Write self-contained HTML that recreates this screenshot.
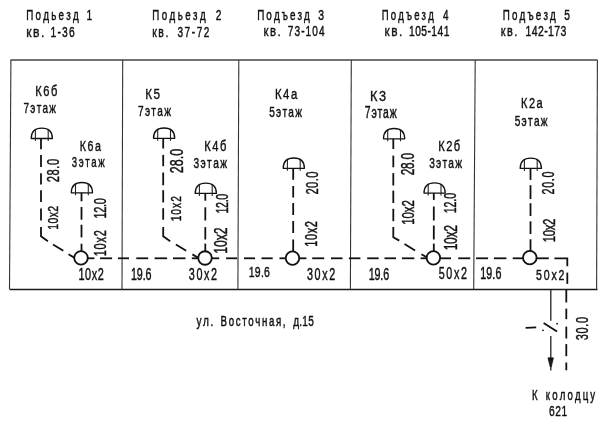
<!DOCTYPE html>
<html><head><meta charset="utf-8"><title>Схема канализации</title>
<style>
html,body{margin:0;padding:0;background:#fff;}
svg{display:block;}
text{font-family:'Liberation Sans', 'DejaVu Sans', sans-serif;font-size:100px;font-weight:normal;fill:#111;stroke:#111;font-kerning:none;}
.p{stroke:#111;stroke-width:1.8;fill:none;stroke-linecap:butt;}
.fr{stroke:#1a1a1a;stroke-width:1.3;fill:none;}
.ft{stroke:#444;stroke-width:1.4;fill:none;}
.fl{stroke:#333;stroke-width:1.1;fill:none;}
.fx{stroke:#111;stroke-width:1.3;fill:none;stroke-linejoin:round;}
.fx2{stroke:#222;stroke-width:1.1;}
.thin{stroke:#222;stroke-width:1.3;}
.arr{fill:#111;stroke:#111;stroke-width:0.6;}
.dot{fill:#111;}
</style></head>
<body>
<svg width="604" height="424" viewBox="0 0 604 424">
<rect width="604" height="424" fill="#fff"/>
<g>
<line class="ft" x1="10.5" y1="60" x2="597.5" y2="60"/>
<line class="fr" x1="9.5" y1="289.5" x2="597.5" y2="289.5"/>
<line class="fl" x1="10.9" y1="60" x2="9.5" y2="289"/>
<line class="fl" x1="597.4" y1="60" x2="596.6" y2="289.5"/>
<line class="fl" x1="122.7" y1="60" x2="122" y2="289.5"/>
<line class="fl" x1="238.8" y1="60" x2="237.9" y2="289.5"/>
<line class="fl" x1="351.3" y1="60" x2="350.4" y2="289.5"/>
<line class="fl" x1="475.2" y1="60" x2="473.7" y2="289.5"/>
</g>
<g>
<line class="p" x1="87.8" y1="258.3" x2="94.4" y2="258.3"/>
<line class="p" x1="100.1" y1="258.3" x2="112.1" y2="258.3"/>
<line class="p" x1="118" y1="258.3" x2="129" y2="258.3"/>
<line class="p" x1="136.3" y1="258.3" x2="148.2" y2="258.3"/>
<line class="p" x1="154.6" y1="258.3" x2="167.1" y2="258.3"/>
<line class="p" x1="173" y1="258.3" x2="185.5" y2="258.3"/>
<line class="p" x1="191.8" y1="258.3" x2="197.8" y2="258.3"/>
<line class="p" x1="212" y1="258.3" x2="219.2" y2="258.3"/>
<line class="p" x1="226.1" y1="258.3" x2="237.1" y2="258.3"/>
<line class="p" x1="244" y1="258.3" x2="255" y2="258.3"/>
<line class="p" x1="261.5" y1="258.3" x2="272.7" y2="258.3"/>
<line class="p" x1="279.5" y1="258.3" x2="285.8" y2="258.3"/>
<line class="p" x1="299.7" y1="258.3" x2="306.4" y2="258.3"/>
<line class="p" x1="312.2" y1="258.3" x2="324.2" y2="258.3"/>
<line class="p" x1="331" y1="258.3" x2="342.5" y2="258.3"/>
<line class="p" x1="348.9" y1="258.3" x2="360.4" y2="258.3"/>
<line class="p" x1="367.2" y1="258.3" x2="378.7" y2="258.3"/>
<line class="p" x1="384.5" y1="258.3" x2="396" y2="258.3"/>
<line class="p" x1="401.9" y1="258.3" x2="414.3" y2="258.3"/>
<line class="p" x1="420.6" y1="258.3" x2="426.7" y2="258.3"/>
<line class="p" x1="440.3" y1="258.3" x2="451" y2="258.3"/>
<line class="p" x1="458.2" y1="258.3" x2="470.2" y2="258.3"/>
<line class="p" x1="476.1" y1="258.3" x2="488.1" y2="258.3"/>
<line class="p" x1="493.9" y1="258.3" x2="506.4" y2="258.3"/>
<line class="p" x1="512.7" y1="258.3" x2="523" y2="258.3"/>
<line class="p" x1="536.3" y1="258.3" x2="548.8" y2="258.3"/>
<polyline class="p" points="554.4,258.3 567.3,258.3 567.3,266.2"/>
<line class="p" x1="567.3" y1="272.6" x2="567.3" y2="283.9"/>
<line class="p" x1="566.3" y1="289.5" x2="566.3" y2="302.5"/>
<line class="p" x1="566.3" y1="308.6" x2="566.3" y2="319.2"/>
<line class="p" x1="566.3" y1="326.6" x2="566.3" y2="338.5"/>
<line class="p" x1="566.3" y1="344.1" x2="566.3" y2="356.2"/>
<line class="p" x1="566.3" y1="362.5" x2="566.3" y2="370.3"/>
<circle class="p" cx="81" cy="257.9" r="6.75"/>
<circle class="p" cx="205" cy="258" r="6.75"/>
<circle class="p" cx="292.5" cy="258.2" r="6.75"/>
<circle class="p" cx="433.4" cy="257.8" r="6.75"/>
<circle class="p" cx="529.8" cy="257.7" r="6.75"/>
<line class="p" x1="41" y1="138.5" x2="41" y2="149.2"/>
<line class="p" x1="41" y1="154.9" x2="41" y2="166.9"/>
<line class="p" x1="41" y1="173.2" x2="41" y2="184.6"/>
<line class="p" x1="41" y1="190.2" x2="41" y2="202"/>
<line class="p" x1="41" y1="208.4" x2="41" y2="220.4"/>
<polyline class="p" points="41,227 41,236.2 47.9,241.2"/>
<line class="p" x1="53" y1="244.4" x2="63.3" y2="250.7"/>
<line class="p" x1="68.5" y1="254.3" x2="74.6" y2="257.9"/>
<line class="p" x1="81.5" y1="192.8" x2="81.5" y2="201.3"/>
<line class="p" x1="81.5" y1="207" x2="81.5" y2="219.7"/>
<line class="p" x1="81.5" y1="224.7" x2="81.5" y2="237.4"/>
<line class="p" x1="81.5" y1="243.7" x2="81.5" y2="251.5"/>
<line class="p" x1="163.2" y1="138.3" x2="163.2" y2="148.5"/>
<line class="p" x1="163.2" y1="154.9" x2="163.2" y2="166.2"/>
<line class="p" x1="163.2" y1="172.5" x2="163.2" y2="185.3"/>
<line class="p" x1="163.2" y1="190.2" x2="163.2" y2="202.4"/>
<line class="p" x1="163.2" y1="208.2" x2="163.2" y2="219.7"/>
<polyline class="p" points="163.2,227 163.2,236.2 170.2,241.2"/>
<line class="p" x1="175.9" y1="244.5" x2="186.2" y2="250.8"/>
<line class="p" x1="192.4" y1="254.4" x2="198.4" y2="257.9"/>
<line class="p" x1="205.3" y1="193.5" x2="205.3" y2="200.7"/>
<line class="p" x1="205.3" y1="207.3" x2="205.3" y2="220.5"/>
<line class="p" x1="205.3" y1="227.1" x2="205.3" y2="239.5"/>
<line class="p" x1="205.3" y1="243.6" x2="205.3" y2="251.6"/>
<line class="p" x1="293.2" y1="168.3" x2="293.2" y2="179.8"/>
<line class="p" x1="293.2" y1="186" x2="293.2" y2="197.5"/>
<line class="p" x1="293.2" y1="203" x2="293.2" y2="215"/>
<line class="p" x1="293.2" y1="221" x2="293.2" y2="233"/>
<line class="p" x1="293.2" y1="239.5" x2="293.2" y2="251.8"/>
<line class="p" x1="393.3" y1="138.8" x2="393.3" y2="149"/>
<line class="p" x1="393.3" y1="155.6" x2="393.3" y2="167.3"/>
<line class="p" x1="393.3" y1="173.1" x2="393.3" y2="185.5"/>
<line class="p" x1="393.3" y1="190.6" x2="393.3" y2="203"/>
<line class="p" x1="393.3" y1="208.8" x2="393.3" y2="221.2"/>
<polyline class="p" points="393.3,227 393.3,237.2 399.3,240.6"/>
<line class="p" x1="404.5" y1="244" x2="415.1" y2="250.4"/>
<line class="p" x1="421.5" y1="254.2" x2="427" y2="257.6"/>
<line class="p" x1="433.8" y1="193.1" x2="433.8" y2="199.9"/>
<line class="p" x1="433.8" y1="206.5" x2="433.8" y2="220.5"/>
<line class="p" x1="433.8" y1="225.5" x2="433.8" y2="239.5"/>
<line class="p" x1="433.8" y1="243.6" x2="433.8" y2="251.4"/>
<line class="p" x1="530.5" y1="168.4" x2="530.5" y2="179.9"/>
<line class="p" x1="530.5" y1="185.2" x2="530.5" y2="199"/>
<line class="p" x1="530.5" y1="203.2" x2="530.5" y2="216"/>
<line class="p" x1="530.5" y1="221.3" x2="530.5" y2="234"/>
<line class="p" x1="530.5" y1="239.3" x2="530.5" y2="251.3"/>
</g>
<g>
<path class="fx" d="M31.2,138.5 C31.2,131.908 35.016,128.2 41.8,128.2 C48.584,128.2 52.4,131.908 52.4,138.5 Z"/>
<line class="fx2" x1="35.4" y1="129.7611" x2="35.4" y2="141"/>
<line class="fx2" x1="48.2" y1="129.7611" x2="48.2" y2="141"/>
<path class="fx" d="M71.3,192.8 C71.3,186.208 75.116,182.5 81.9,182.5 C88.684,182.5 92.5,186.208 92.5,192.8 Z"/>
<line class="fx2" x1="75.5" y1="184.0611" x2="75.5" y2="195.3"/>
<line class="fx2" x1="88.3" y1="184.0611" x2="88.3" y2="195.3"/>
<path class="fx" d="M153.5,138.3 C153.5,131.708 157.316,128 164.1,128 C170.884,128 174.7,131.708 174.7,138.3 Z"/>
<line class="fx2" x1="157.7" y1="129.5611" x2="157.7" y2="140.8"/>
<line class="fx2" x1="170.5" y1="129.5611" x2="170.5" y2="140.8"/>
<path class="fx" d="M195.2,193.4 C195.2,186.808 199.016,183.1 205.8,183.1 C212.584,183.1 216.4,186.808 216.4,193.4 Z"/>
<line class="fx2" x1="199.4" y1="184.6611" x2="199.4" y2="195.9"/>
<line class="fx2" x1="212.2" y1="184.6611" x2="212.2" y2="195.9"/>
<path class="fx" d="M283.2,168.3 C283.2,161.708 287.016,158 293.8,158 C300.584,158 304.4,161.708 304.4,168.3 Z"/>
<line class="fx2" x1="287.4" y1="159.5611" x2="287.4" y2="170.8"/>
<line class="fx2" x1="300.2" y1="159.5611" x2="300.2" y2="170.8"/>
<path class="fx" d="M383.5,138.8 C383.5,132.208 387.316,128.5 394.1,128.5 C400.884,128.5 404.7,132.208 404.7,138.8 Z"/>
<line class="fx2" x1="387.7" y1="130.0611" x2="387.7" y2="141.3"/>
<line class="fx2" x1="400.5" y1="130.0611" x2="400.5" y2="141.3"/>
<path class="fx" d="M424,193.1 C424,186.508 427.816,182.8 434.6,182.8 C441.384,182.8 445.2,186.508 445.2,193.1 Z"/>
<line class="fx2" x1="428.2" y1="184.3611" x2="428.2" y2="195.6"/>
<line class="fx2" x1="441" y1="184.3611" x2="441" y2="195.6"/>
<path class="fx" d="M520.2,168.4 C520.2,161.808 524.016,158.1 530.8,158.1 C537.584,158.1 541.4,161.808 541.4,168.4 Z"/>
<line class="fx2" x1="524.4" y1="159.6611" x2="524.4" y2="170.9"/>
<line class="fx2" x1="537.2" y1="159.6611" x2="537.2" y2="170.9"/>
</g>
<g>
<line class="thin" x1="550.8" y1="289.5" x2="550.8" y2="320.7"/>
<line class="thin" x1="550.8" y1="335.9" x2="550.8" y2="360"/>
<path class="arr" d="M547.9,357.8 L553.5,357.8 L551.3,367 L550.2,367 Z"/>
<line class="thin" x1="550.8" y1="360" x2="550.8" y2="370.5"/>
<line class="p" x1="543.6" y1="323" x2="557" y2="331.6"/>
<circle class="dot" cx="543" cy="330.3" r="0.9"/>
<circle class="dot" cx="557.1" cy="323.7" r="0.9"/>
<path class="p" d="M525.6,327.8 L536.2,327.4"/>
</g>
<g>
<text letter-spacing="22.86" stroke-width="3.0533" transform="matrix(0.0983 0 0 0.1512 26.214 19.9)">Подьезд</text>
<text letter-spacing="0" stroke-width="2.9186" transform="matrix(0.1028 0 0 0.1512 86.5177 19.9)">1</text>
<text letter-spacing="12.2932" stroke-width="2.4586" transform="matrix(0.122 0 0 0.1512 26.1459 36.8)">кв.</text>
<text letter-spacing="11.9186" stroke-width="2.9186" transform="matrix(0.1028 0 0 0.1512 50.4777 36.8)">1-36</text>
<text letter-spacing="25.4225" stroke-width="3.0829" transform="matrix(0.0973 0 0 0.1497 152.2215 20.3)">Подьезд</text>
<text letter-spacing="0" stroke-width="2.9469" transform="matrix(0.1018 0 0 0.1497 215.8495 20.3)">2</text>
<text letter-spacing="14.3421" stroke-width="2.8684" transform="matrix(0.1046 0 0 0.1483 152.2679 36.6)">кв.</text>
<text letter-spacing="15.6202" stroke-width="2.9758" transform="matrix(0.1008 0 0 0.1483 177.3967 36.6)">37-72</text>
<text letter-spacing="20.3597" stroke-width="3.0242" transform="matrix(0.0992 0 0 0.1526 257.2064 20)">Подъезд</text>
<text letter-spacing="0" stroke-width="2.8908" transform="matrix(0.1038 0 0 0.1526 318.3461 20)">3</text>
<text letter-spacing="13.1855" stroke-width="2.6371" transform="matrix(0.1138 0 0 0.1483 263.6037 35.6)">кв.</text>
<text letter-spacing="10.8187" stroke-width="2.9758" transform="matrix(0.1008 0 0 0.1483 287.7959 35.6)">73-104</text>
<text letter-spacing="22.9198" stroke-width="3.1439" transform="matrix(0.0954 0 0 0.1468 381.7366 19.9)">Подъезд</text>
<text letter-spacing="0" stroke-width="3.0052" transform="matrix(0.0998 0 0 0.1468 443.0548 19.9)">4</text>
<text letter-spacing="12.6744" stroke-width="2.5349" transform="matrix(0.1183 0 0 0.1512 384.5716 36.2)">кв.</text>
<text letter-spacing="4.3974" stroke-width="2.9186" transform="matrix(0.1028 0 0 0.1512 408.9777 36.2)">105-141</text>
<text letter-spacing="22.0414" stroke-width="3.0533" transform="matrix(0.0983 0 0 0.1512 502.714 19.9)">Подъезд</text>
<text letter-spacing="0" stroke-width="2.9186" transform="matrix(0.1028 0 0 0.1512 564.1733 19.9)">5</text>
<text letter-spacing="13.7395" stroke-width="2.7479" transform="matrix(0.1092 0 0 0.1541 500.7358 36.4)">кв.</text>
<text letter-spacing="3.9891" stroke-width="2.8635" transform="matrix(0.1048 0 0 0.1541 525.4619 36.4)">142-173</text>
<text letter-spacing="13.4746" stroke-width="2.6949" transform="matrix(0.1113 0 0 0.1381 35.3094 95.9)">К6б</text>
<text letter-spacing="13.1733" stroke-width="3.0253" transform="matrix(0.0992 0 0 0.1512 23.5042 113.2)">7этаж</text>
<text letter-spacing="14.0407" stroke-width="2.8081" transform="matrix(0.1068 0 0 0.1381 79.8453 150.9)">К6а</text>
<text letter-spacing="16.6101" stroke-width="3.1152" transform="matrix(0.0963 0 0 0.1468 71.8148 167.4)">3этаж</text>
<text letter-spacing="12.8571" stroke-width="2.5714" transform="matrix(0.1167 0 0 0.1439 145.2667 98.5)">К5</text>
<text letter-spacing="12.8927" stroke-width="2.9682" transform="matrix(0.1011 0 0 0.1541 137.9947 115.6)">7этаж</text>
<text letter-spacing="13.4746" stroke-width="2.6949" transform="matrix(0.1113 0 0 0.1468 204.3094 150.9)">К4б</text>
<text letter-spacing="13.1189" stroke-width="2.9405" transform="matrix(0.102 0 0 0.1555 193.5919 168)">3этаж</text>
<text letter-spacing="13.1967" stroke-width="2.6393" transform="matrix(0.1137 0 0 0.1468 274.9907 99.1)">К4а</text>
<text letter-spacing="12.3953" stroke-width="2.9682" transform="matrix(0.1011 0 0 0.1541 269.1957 116.6)">5этаж</text>
<text letter-spacing="11.7442" stroke-width="2.3488" transform="matrix(0.1277 0 0 0.1541 370.0782 100.7)">К3</text>
<text letter-spacing="8.0409" stroke-width="2.8866" transform="matrix(0.1039 0 0 0.1584 364.7803 118)">7этаж</text>
<text letter-spacing="13.4746" stroke-width="2.6949" transform="matrix(0.1113 0 0 0.1468 438.2094 150.9)">К2б</text>
<text letter-spacing="11.6486" stroke-width="2.9405" transform="matrix(0.102 0 0 0.1555 429.1919 168)">3этаж</text>
<text letter-spacing="13.6441" stroke-width="2.7288" transform="matrix(0.1099 0 0 0.1395 521.1205 108.4)">К2а</text>
<text letter-spacing="12.6427" stroke-width="2.9682" transform="matrix(0.1011 0 0 0.1541 514.6957 126.4)">5этаж</text>
<text letter-spacing="4.9697" stroke-width="2.7594" transform="matrix(0.1087 0 0 0.1599 78.5302 280.4)">10x2</text>
<text letter-spacing="-1.2603" stroke-width="2.7847" transform="matrix(0.1077 0 0 0.1584 130.9381 280.2)">19.6</text>
<text letter-spacing="15.1351" stroke-width="2.7847" transform="matrix(0.1077 0 0 0.1584 188.7691 280.2)">30x2</text>
<text letter-spacing="2.33" stroke-width="2.8635" transform="matrix(0.1048 0 0 0.1541 248.7619 277.2)">19.6</text>
<text letter-spacing="15.1351" stroke-width="2.7847" transform="matrix(0.1077 0 0 0.1584 306.9691 280.2)">30x2</text>
<text letter-spacing="-1.5697" stroke-width="2.7847" transform="matrix(0.1077 0 0 0.1584 368.7381 280.2)">19.6</text>
<text letter-spacing="15.1351" stroke-width="2.7847" transform="matrix(0.1077 0 0 0.1584 438.6691 279.3)">50x2</text>
<text letter-spacing="1.215" stroke-width="2.7847" transform="matrix(0.1077 0 0 0.1584 480.1381 279.3)">19.6</text>
<text letter-spacing="17.6595" stroke-width="2.8367" transform="matrix(0.1058 0 0 0.1555 535.977 279.7)">50x2</text>
<text letter-spacing="14.8828" stroke-width="2.9766" transform="matrix(0.1008 0 0 0.1497 196.5 326.3)">ул.</text>
<text letter-spacing="16.7274" stroke-width="3.0829" transform="matrix(0.0973 0 0 0.1497 220.5215 326.3)">Восточная,</text>
<text letter-spacing="2.1315" stroke-width="2.9909" transform="matrix(0.1003 0 0 0.1497 293.2997 326.3)">д.15</text>
<text letter-spacing="0" stroke-width="3.1131" transform="matrix(0.0964 0 0 0.1483 532.1181 399.6)">К</text>
<text letter-spacing="22.2272" stroke-width="3.1131" transform="matrix(0.0964 0 0 0.1483 545.8254 399.6)">колодцу</text>
<text letter-spacing="6.138" stroke-width="2.9186" transform="matrix(0.1028 0 0 0.1512 548.886 416.4)">621</text>
<text letter-spacing="5.451" stroke-width="2.6861" transform="matrix(0 -0.1117 0.1642 0 58.9 182.2584)">28.0</text>
<text letter-spacing="3.9053" stroke-width="2.8635" transform="matrix(0 -0.1048 0.1541 0 58.2 229.7381)">10x2</text>
<text letter-spacing="-2.745" stroke-width="2.745" transform="matrix(0 -0.1093 0.1642 0 106 218.4743)">12.0</text>
<text letter-spacing="7.0468" stroke-width="2.7345" transform="matrix(0 -0.1097 0.1613 0 105.6 256.2777)">10x2</text>
<text letter-spacing="-0.1257" stroke-width="2.39" transform="matrix(0 -0.1255 0.1846 0 182.5 173.1276)">28.0</text>
<text letter-spacing="9.5038" stroke-width="2.9186" transform="matrix(0 -0.1028 0.1512 0 181 221.3223)">10x2</text>
<text letter-spacing="-2.8154" stroke-width="2.8154" transform="matrix(0 -0.1066 0.1686 0 227.5 213.5525)">12.0</text>
<text letter-spacing="-0.821" stroke-width="2.4478" transform="matrix(0 -0.1226 0.1802 0 226.7 253.6805)">10x2</text>
<text letter-spacing="2.7884" stroke-width="2.6625" transform="matrix(0 -0.1127 0.1657 0 317.6 194.4634)">20.0</text>
<text letter-spacing="5.4734" stroke-width="2.7101" transform="matrix(0 -0.1107 0.1628 0 317.2 246.7856)">10x2</text>
<text letter-spacing="-2.1373" stroke-width="2.5294" transform="matrix(0 -0.1186 0.1744 0 413.9 175.293)">28.0</text>
<text letter-spacing="-0.8398" stroke-width="2.6166" transform="matrix(0 -0.1147 0.1686 0 413.8 224.7172)">10x2</text>
<text letter-spacing="-1.6681" stroke-width="2.8105" transform="matrix(0 -0.1067 0.157 0 455.9 213.154)">12.0</text>
<text letter-spacing="-2.4677" stroke-width="2.4677" transform="matrix(0 -0.1216 0.1802 0 456.7 250.3725)">10x2</text>
<text letter-spacing="5.7604" stroke-width="2.7847" transform="matrix(0 -0.1077 0.1584 0 553.9 194.4387)">20.0</text>
<text letter-spacing="-2.6379" stroke-width="2.6379" transform="matrix(0 -0.1137 0.1701 0 554.6 242.3098)">10x2</text>
<text letter-spacing="5.7253" stroke-width="2.7345" transform="matrix(0 -0.1097 0.1613 0 587.7 340.2388)">30.0</text>
</g>
</svg>
</body></html>
